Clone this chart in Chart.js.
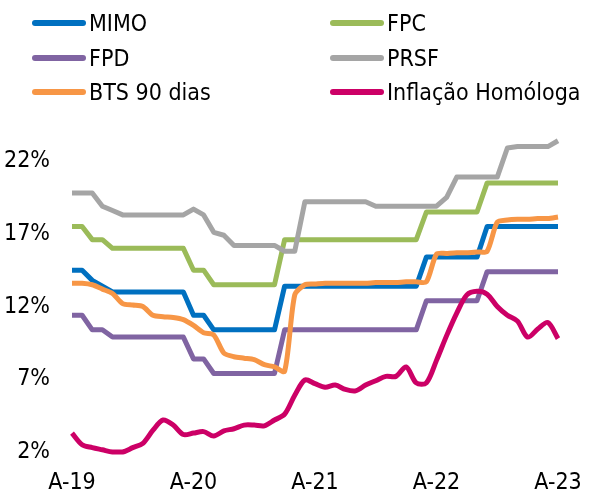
<!DOCTYPE html>
<html lang="pt">
  <head>
    <meta charset="UTF-8" />
    <title>Taxas de juro e inflação</title>
    <script src="https://cdn.jsdelivr.net/npm/chart.js"></script>
    <style>
      body {
        margin: 0;
        background: #fff;
        font-family: "DejaVu Sans Condensed", "DejaVu Sans", sans-serif;
      }
      .wrap {
        position: relative;
        width: 590px;
        height: 491px;
      }
      #legend {
        position: absolute;
        left: 32px;
        top: 6px;
        display: grid;
        grid-template-columns: 298px auto;
        grid-auto-rows: 34.5px;
      }
      .item {
        display: flex;
        align-items: center;
        font-size: 23px;
        color: #000;
        white-space: nowrap;
      }
      .item .line {
        width: 54px;
        height: 6px;
        border-radius: 3px;
        margin-right: 3px;
      }
    </style>
  </head>

  <body>
    <div class="wrap">
      <canvas id="chart" width="590" height="491"></canvas>
      <div id="legend"></div>
    </div>

    <script>
      // meses de Abr-19 a Abr-23
      const months = [
        "A-19","M-19","J-19","J-19","A-19","S-19","O-19","N-19","D-19","J-20","F-20","M-20",
        "A-20","M-20","J-20","J-20","A-20","S-20","O-20","N-20","D-20","J-21","F-21","M-21",
        "A-21","M-21","J-21","J-21","A-21","S-21","O-21","N-21","D-21","J-22","F-22","M-22",
        "A-22","M-22","J-22","J-22","A-22","S-22","O-22","N-22","D-22","J-23","F-23","M-23",
        "A-23"
      ];
      const yTicks = [2, 7, 12, 17, 22];

      const mimo = [
        14.5, 14.5, 13.8, 13.4, 13.0, 13.0, 13.0, 13.0, 13.0, 13.0, 13.0, 13.0,
        11.4, 11.4, 10.4, 10.4, 10.4, 10.4, 10.4, 10.4, 10.4, 13.4, 13.4, 13.4,
        13.4, 13.4, 13.4, 13.4, 13.4, 13.4, 13.4, 13.4, 13.4, 13.4, 13.4, 15.4,
        15.4, 15.4, 15.4, 15.4, 15.4, 17.5, 17.5, 17.5, 17.5, 17.5, 17.5, 17.5,
        17.5
      ];
      const fpc = [
        17.5, 17.5, 16.6, 16.6, 16.0, 16.0, 16.0, 16.0, 16.0, 16.0, 16.0, 16.0,
        14.5, 14.5, 13.5, 13.5, 13.5, 13.5, 13.5, 13.5, 13.5, 16.6, 16.6, 16.6,
        16.6, 16.6, 16.6, 16.6, 16.6, 16.6, 16.6, 16.6, 16.6, 16.6, 16.6, 18.5,
        18.5, 18.5, 18.5, 18.5, 18.5, 20.5, 20.5, 20.5, 20.5, 20.5, 20.5, 20.5,
        20.5
      ];
      const fpd = [
        11.4, 11.4, 10.4, 10.4, 9.9, 9.9, 9.9, 9.9, 9.9, 9.9, 9.9, 9.9,
        8.4, 8.4, 7.4, 7.4, 7.4, 7.4, 7.4, 7.4, 7.4, 10.4, 10.4, 10.4,
        10.4, 10.4, 10.4, 10.4, 10.4, 10.4, 10.4, 10.4, 10.4, 10.4, 10.4, 12.4,
        12.4, 12.4, 12.4, 12.4, 12.4, 14.4, 14.4, 14.4, 14.4, 14.4, 14.4, 14.4,
        14.4
      ];
      const prsf = [
        19.8, 19.8, 19.8, 18.9, 18.6, 18.3, 18.3, 18.3, 18.3, 18.3, 18.3, 18.3,
        18.7, 18.3, 17.1, 16.9, 16.2, 16.2, 16.2, 16.2, 16.2, 15.8, 15.8, 19.2,
        19.2, 19.2, 19.2, 19.2, 19.2, 19.2, 18.9, 18.9, 18.9, 18.9, 18.9, 18.9,
        18.9, 19.5, 20.9, 20.9, 20.9, 20.9, 20.9, 22.9, 23.0, 23.0, 23.0, 23.0,
        23.4
      ];
      const bts90 = [
        13.6, 13.6, 13.5, 13.2, 12.9, 12.2, 12.1, 12.0, 11.4, 11.3, 11.25, 11.1,
        10.7, 10.2, 10.05, 8.8, 8.55, 8.45, 8.35, 8.0, 7.85, 7.55, 12.8, 13.5,
        13.55, 13.6, 13.6, 13.6, 13.6, 13.6, 13.65, 13.65, 13.65, 13.7, 13.7, 13.7,
        15.6, 15.65, 15.7, 15.7, 15.75, 15.8, 17.8, 17.95, 18.0, 18.0, 18.05, 18.05,
        18.15
      ];
      const inflacao = [
        3.3, 2.5, 2.3, 2.15, 2.0, 2.0, 2.3, 2.6, 3.5, 4.2, 3.85, 3.2,
        3.3, 3.4, 3.1, 3.45, 3.6, 3.85, 3.85, 3.8, 4.2, 4.6, 5.9, 6.95,
        6.7, 6.45, 6.6, 6.3, 6.2, 6.6, 6.9, 7.2, 7.2, 7.85, 6.75, 6.75,
        8.3, 10.0, 11.55, 12.8, 13.05, 12.85, 12.0, 11.4, 11.0, 9.9, 10.45, 10.9,
        9.8
      ];

      const family = '"DejaVu Sans Condensed", "DejaVu Sans", sans-serif';
      Chart.defaults.font.family = family;

      // ordem do Excel: a última série fica por cima
      const series = [
        { label: "MIMO", data: mimo, color: "#0070C0", tension: 0 },
        { label: "FPC", data: fpc, color: "#9BBB59", tension: 0 },
        { label: "FPD", data: fpd, color: "#8064A2", tension: 0 },
        { label: "PRSF", data: prsf, color: "#A5A5A5", tension: 0 },
        { label: "BTS 90 dias", data: bts90, color: "#F79646", tension: 0.25 },
        { label: "Inflação Homóloga", data: inflacao, color: "#CC0066", tension: 0.3 },
      ];

      const ctx = document.getElementById("chart").getContext("2d");
      const chart = new Chart(ctx, {
        type: "line",
        data: {
          labels: months,
          datasets: series.map((s, i) => ({
            label: s.label,
            data: s.data,
            borderColor: s.color,
            backgroundColor: s.color,
            borderWidth: 5,
            borderJoinStyle: "round",
            pointRadius: 0,
            tension: s.tension,
            clip: false,
            order: series.length - i,
          })),
        },
        options: {
          responsive: false,
          animation: false,
          layout: { padding: { top: 132, right: 32, left: 0, bottom: 0 } },
          plugins: {
            legend: { display: false },
            tooltip: { enabled: false },
          },
          scales: {
            x: {
              grid: { display: false, drawTicks: false },
              border: { display: false },
              ticks: {
                autoSkip: false,
                maxRotation: 0,
                padding: 17,
                color: "#000",
                font: { size: 23 },
                callback: (v, i) => (i % 12 === 0 ? months[i] : ""),
              },
              afterFit: (s) => {
                s.height = 39;
                // sem folga extra para o último rótulo
                s.paddingLeft = 0;
                s.paddingRight = 0;
              },
            },
            y: {
              min: 2,
              max: 24,
              grid: { display: false, drawTicks: false },
              border: { display: false },
              afterBuildTicks: (s) => {
                s.ticks = yTicks.map((v) => ({ value: v }));
              },
              ticks: {
                padding: 22,
                color: "#000",
                font: { size: 23 },
                callback: (v) => v + "%",
              },
              afterFit: (s) => {
                s.width = 72;
              },
            },
          },
        },
      });

      // legenda em duas colunas
      const legend = document.getElementById("legend");
      chart.data.datasets.forEach((ds) => {
        const item = document.createElement("div");
        item.className = "item";
        const line = document.createElement("span");
        line.className = "line";
        line.style.background = ds.borderColor;
        item.appendChild(line);
        item.appendChild(document.createTextNode(ds.label));
        legend.appendChild(item);
      });
    </script>
  </body>
</html>
